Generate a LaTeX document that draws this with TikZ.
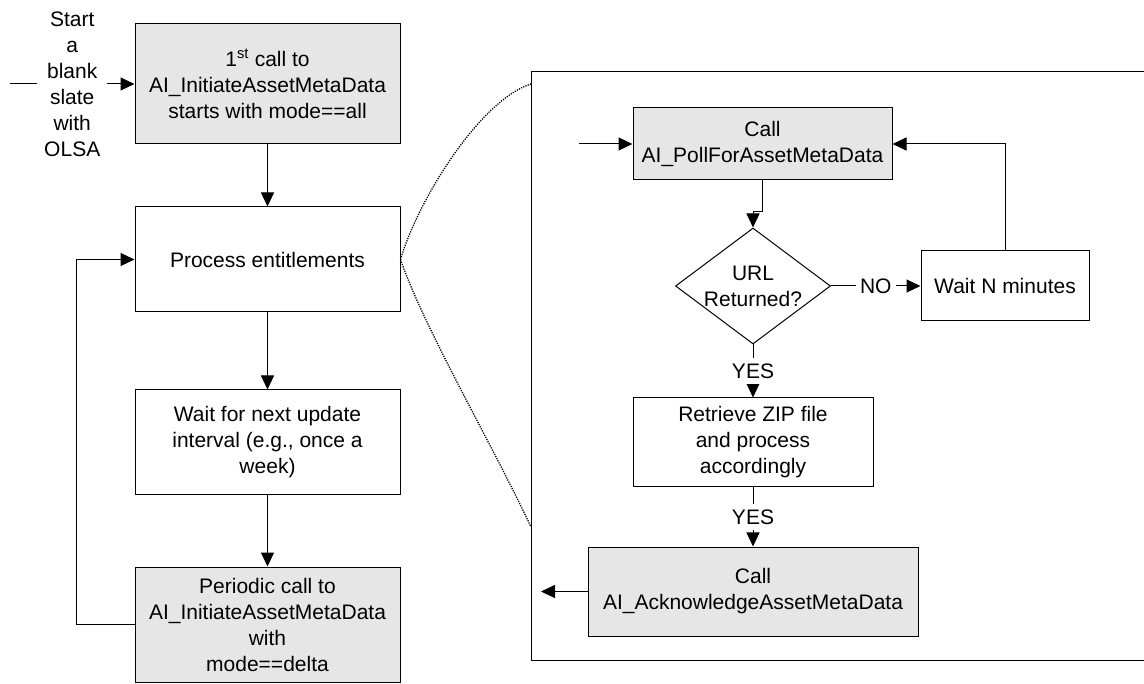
\documentclass[tikz,border=0pt]{standalone}
\usepackage{fontspec}
\setmainfont{Liberation Sans}
\usetikzlibrary{arrows.meta,shapes.geometric}
\definecolor{callgray}{RGB}{230,230,230}
\tikzset{
  flow/.style={draw, line width=1pt, align=center, inner sep=0pt, font=\fontsize{21}{26}\selectfont},
  callbox/.style={flow, fill=callgray},
  stepbox/.style={flow, fill=white},
  decide/.style={flow, diamond, aspect=1.336, inner sep=-2pt},
  link/.style={line width=1pt, -{Triangle[length=14pt,width=13pt]}},
  tag/.style={fill=white, inner xsep=4pt, inner ysep=6pt, font=\fontsize{21}{26}\selectfont},
  zoomline/.style={dash pattern=on 1.2pt off 1.2pt, line width=1.3pt}
}

\begin{document}
\begin{tikzpicture}[x=1pt,y=-1pt]
    \useasboundingbox (0,0) rectangle (1144,684);

    \node[callbox, minimum width=265, minimum height=120] (init) at (267.5,84) {1\textsuperscript{st} call to\\AI\_InitiateAssetMetaData\\starts with mode==all};
    \node[stepbox, minimum width=265, minimum height=105] (proc) at (267.5,259.5) {Process entitlements};
    \node[stepbox, minimum width=265, minimum height=105] (waitupd) at (267.5,442.5) {Wait for next update\\interval (e.g., once a\\week)};
    \node[callbox, minimum width=265, minimum height=115] (periodic) at (267.5,624.5) {Periodic call to\\AI\_InitiateAssetMetaData\\with\\mode==delta};

    \coordinate (blank) at (10,84);
    \draw[link] (blank) -- node[tag, inner xsep=7pt, align=center] (start) {Start\\a\\blank\\slate\\with\\OLSA} (init.west);
    \draw[link] (init) -- (proc);
    \draw[link] (proc) -- (waitupd);
    \draw[link] (waitupd) -- (periodic);
    \draw[link] (periodic.west) -- ++(-58,0) |- (proc.west);

    \draw[line width=1pt] (1144,72) -- (531,72) -- (531,660) -- (1144,660);
    \coordinate (frametop) at (531,84);
    \coordinate (framebot) at (531,527);
    \draw[zoomline] (proc.east) .. controls (418,200) and (480,100) .. (frametop);
    \draw[zoomline] (proc.east) .. controls (425,330) and (490,440) .. (framebot);

    \node[callbox, minimum width=259, minimum height=72] (poll) at (762.5,144) {Call\\AI\_PollForAssetMetaData};
    \node[decide, minimum width=155, minimum height=116] (url) at (753,286) {URL\\Returned?};
    \node[stepbox, minimum width=168, minimum height=70] (waitn) at (1005,286) {Wait N minutes};
    \node[stepbox, minimum width=240, minimum height=89] (zipfile) at (753,442.5) {Retrieve ZIP file\\and process\\accordingly};
    \node[callbox, minimum width=330, minimum height=89] (ack) at (753,591.5) {Call\\AI\_AcknowledgeAssetMetaData};

    \coordinate (pollin) at (579,144);
    \draw[link] (pollin) -- (poll.west);
    \draw[link] (poll.south) -- ++(0,31) -| (url.north);
    \draw[link] (url.east) -- node[tag] (no) {NO} (waitn.west);
    \draw[link] (waitn.north) |- (poll.east);
    \draw[link] (url.south) -- node[tag] (yesa) {YES} (zipfile.north);
    \draw[link] (zipfile.south) -- node[tag] (yesb) {YES} (ack.north);
    \coordinate (ackout) at (541,591.5);
    \draw[link] (ack.west) -- (ackout);
\end{tikzpicture}
\end{document}
